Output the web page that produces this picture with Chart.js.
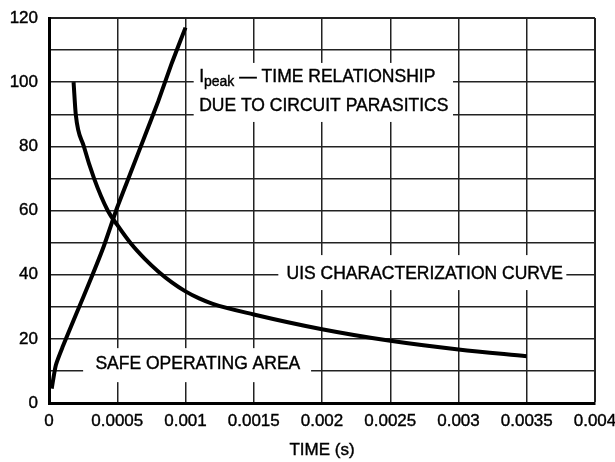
<!DOCTYPE html>
<html>
<head>
<meta charset="utf-8">
<script src="https://cdn.jsdelivr.net/npm/chart.js@4.4.0/dist/chart.umd.min.js"></script>
<style>
  html, body { margin: 0; padding: 0; background: #fff; }
</style>
</head>
<body>
<canvas id="chart" width="615" height="462"></canvas>
<script>
// UIS characterization curve (time in s, current in A)
const uisTime    = [0.00018, 0.000196, 0.000255, 0.00033, 0.00043, 0.0005, 0.0006, 0.0007, 0.0008, 0.0009, 0.001, 0.0011, 0.0012, 0.0015, 0.002, 0.0025, 0.003, 0.0035];
const uisCurrent = [100, 90, 80, 70, 60, 55.5, 49.7, 45, 41, 37.6, 34.8, 32.6, 30.9, 27.6, 23, 19.4, 16.7, 14.6];

// Ipeak - time relationship due to circuit parasitics
const peakTime    = [0.00002, 0.00005, 0.0001, 0.0002, 0.0003, 0.0004, 0.0005, 0.0006, 0.0007, 0.0008, 0.0009, 0.001];
const peakCurrent = [4.5, 11.8, 17.5, 27.8, 38, 48.7, 61, 72, 83, 94, 106, 117];

const FONT = "'Liberation Sans', Arial, sans-serif";
const X_TITLE = 'TIME (s)';

function toPoints(xs, ys) {
    return xs.map((x, i) => ({ x: x, y: ys[i] }));
}

// white boxes with labels, placed in data units
const notes = [
    { box: [0.00106, 0.00296, 87.6, 106], lines: [
        { x: 0.00110, y: 101.6, parts: [['I', 17.5, 0], ['peak', 14, 5], [' \u2014 TIME RELATIONSHIP', 17.5, 0]] },
        { x: 0.00110, y: 92.6, parts: [['DUE TO CIRCUIT PARASITICS', 17.5, 0]] }
    ]},
    { box: [0.00168, 0.00379, 35.2, 46.1], lines: [
        { x: 0.00174, y: 40.2, parts: [['UIS CHARACTERIZATION CURVE', 17.5, 0]] }
    ]},
    { box: [0.00025, 0.00192, 6.5, 17.1], lines: [
        { x: 0.00034, y: 12, parts: [['SAFE OPERATING AREA', 17.5, 0]] }
    ]}
];

function heavyText(ctx, text, x, y) {
    ctx.fillText(text, x, y);
    ctx.strokeText(text, x, y);
}

const notesPlugin = {
    id: 'notes',
    beforeDatasetsDraw(chart) {
        const ctx = chart.ctx;
        const xs = chart.scales.x, ys = chart.scales.y;
        ctx.save();
        notes.forEach(n => {
            const x0 = xs.getPixelForValue(n.box[0]), x1 = xs.getPixelForValue(n.box[1]);
            const y0 = ys.getPixelForValue(n.box[3]), y1 = ys.getPixelForValue(n.box[2]);
            ctx.fillStyle = '#fff';
            ctx.fillRect(x0, y0, x1 - x0, y1 - y0);
            ctx.fillStyle = '#000';
            ctx.strokeStyle = '#000';
            ctx.lineWidth = 0.4;
            ctx.textBaseline = 'middle';
            n.lines.forEach(l => {
                let px = xs.getPixelForValue(l.x);
                const py = ys.getPixelForValue(l.y);
                l.parts.forEach(p => {
                    ctx.font = p[1] + 'px ' + FONT;
                    heavyText(ctx, p[0], px, py + p[2]);
                    px += ctx.measureText(p[0]).width;
                });
            });
        });
        ctx.restore();
    },
    afterDraw(chart) {
        // axis title, drawn here so it gets the same weight as the other text
        const ctx = chart.ctx;
        const area = chart.chartArea;
        ctx.save();
        ctx.font = '17px ' + FONT;
        ctx.fillStyle = '#000';
        ctx.strokeStyle = '#000';
        ctx.lineWidth = 0.4;
        ctx.textAlign = 'center';
        ctx.textBaseline = 'middle';
        heavyText(ctx, X_TITLE, (area.left + area.right) / 2, area.bottom + 47);
        ctx.restore();
    }
};

new Chart(document.getElementById('chart'), {
    type: 'scatter',
    data: {
        datasets: [{
            data: toPoints(uisTime, uisCurrent),
            showLine: true,
            borderColor: '#000',
            borderWidth: 4,
            pointRadius: 0,
            cubicInterpolationMode: 'monotone'
        }, {
            data: toPoints(peakTime, peakCurrent),
            showLine: true,
            borderColor: '#000',
            borderWidth: 4,
            pointRadius: 0,
            tension: 0.2
        }]
    },
    options: {
        responsive: false,
        animation: false,
        layout: { padding: { top: 18, right: 20, left: 0, bottom: 0 } },
        plugins: { legend: { display: false }, tooltip: { enabled: false } },
        scales: {
            x: {
                type: 'linear',
                min: 0,
                max: 0.004,
                afterFit: s => { s.height = 59; s.paddingLeft = 0; s.paddingRight = 0; },
                ticks: {
                    stepSize: 0.0005,
                    padding: 8,
                    color: '#000',
                    textStrokeColor: '#000',
                    textStrokeWidth: 0.4,
                    font: { family: FONT, size: 17 },
                    callback: v => String(Number(v.toFixed(4)))
                },
                grid: {
                    drawTicks: false,
                    color: '#222',
                    lineWidth: c => (c.tick && Math.abs(c.tick.value - 0.004) < 1e-9) ? 2 : 1.5
                },
                border: { width: 3, color: '#000' }
            },
            y: {
                min: 0,
                max: 120,
                afterFit: s => { s.width = 49; s.paddingTop = 0; s.paddingBottom = 0; },
                ticks: {
                    stepSize: 10,
                    padding: 11,
                    color: '#000',
                    textStrokeColor: '#000',
                    textStrokeWidth: 0.4,
                    font: { family: FONT, size: 17 },
                    callback: v => (v % 20 === 0 ? v : '')
                },
                grid: {
                    drawTicks: false,
                    color: '#222',
                    lineWidth: c => (c.tick && c.tick.value === 120) ? 2 : 1.5
                },
                border: { width: 3, color: '#000' }
            }
        }
    },
    plugins: [notesPlugin]
});
</script>
</body>
</html>
